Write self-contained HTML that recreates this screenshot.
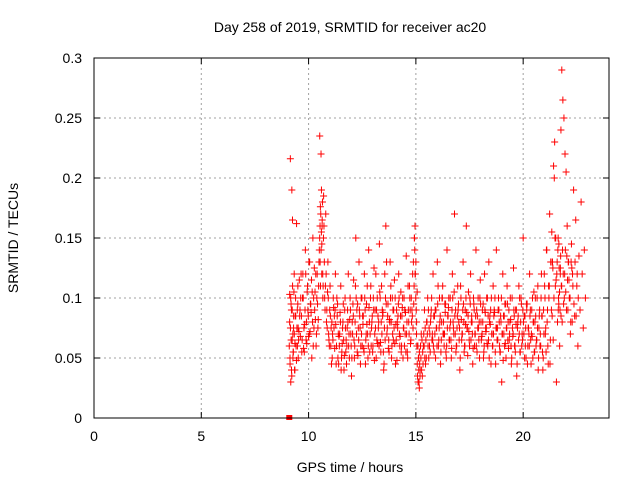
<!DOCTYPE html>
<html><head><meta charset="utf-8"><style>
body{margin:0;background:#fff}
svg{display:block;font-family:"Liberation Sans",sans-serif}
</style></head><body>
<svg id="c" width="640" height="480" viewBox="0 0 640 480">
<text x="350" y="32" text-anchor="middle" font-size="14">Day 258 of 2019, SRMTID for receiver ac20</text>
<text x="350" y="472" text-anchor="middle" font-size="14">GPS time / hours</text>
<text transform="translate(18,238) rotate(-90)" text-anchor="middle" font-size="14">SRMTID / TECUs</text>
<g id="grid"></g><g id="ticks"></g><g id="pts"></g>
<rect x="94" y="58" width="515" height="360" fill="none" stroke="#000" stroke-width="1"/>
</svg>
<script>
const xTicks=[0,5,10,15,20];
const yTicks=[0,0.05,0.1,0.15,0.2,0.25,0.3];
const yTickLabels=["0","0.05","0.1","0.15","0.2","0.25","0.3"];
const times=[9.1,9.12,9.15,9.17,9.2,9.22,9.25,9.27,9.3,9.33,9.36,9.4,9.44,9.48,9.5,9.55,9.6,9.65,9.7,9.75,9.8,9.85,9.9,9.95,10.0,10.05,10.1,10.15,10.2,10.25,10.3,10.35,10.4,10.45,10.5,10.52,10.55,10.58,10.6,10.63,10.66,10.7,10.75,10.8,10.85,10.9,10.95,11.0,11.05,11.1,11.15,11.2,11.25,11.3,11.35,11.4,11.45,11.5,11.55,11.6,11.65,11.7,11.75,11.8,11.85,11.9,11.95,12.0,12.05,12.1,12.15,12.2,12.25,12.3,12.35,12.4,12.45,12.5,12.55,12.6,12.65,12.7,12.75,12.8,12.85,12.9,12.95,13.0,13.05,13.1,13.15,13.2,13.25,13.3,13.35,13.4,13.45,13.5,13.55,13.6,13.65,13.7,13.75,13.8,13.85,13.9,13.95,14.0,14.05,14.1,14.15,14.2,14.25,14.3,14.35,14.4,14.45,14.5,14.55,14.6,14.65,14.7,14.75,14.8,14.85,14.9,14.93,14.96,15.0,15.03,15.06,15.1,15.13,15.16,15.2,15.25,15.3,15.35,15.4,15.45,15.5,15.55,15.6,15.65,15.7,15.75,15.8,15.85,15.9,15.95,16.0,16.05,16.1,16.15,16.2,16.25,16.3,16.35,16.4,16.45,16.5,16.55,16.6,16.65,16.7,16.75,16.8,16.85,16.9,16.95,17.0,17.05,17.1,17.15,17.2,17.25,17.3,17.35,17.4,17.45,17.5,17.55,17.6,17.65,17.7,17.75,17.8,17.85,17.9,17.95,18.0,18.05,18.1,18.15,18.2,18.25,18.3,18.35,18.4,18.45,18.5,18.55,18.6,18.65,18.7,18.75,18.8,18.85,18.9,18.95,19.0,19.05,19.1,19.15,19.2,19.25,19.3,19.35,19.4,19.45,19.5,19.55,19.6,19.65,19.7,19.75,19.8,19.85,19.9,19.95,20.0,20.05,20.1,20.15,20.2,20.25,20.3,20.35,20.4,20.45,20.5,20.55,20.6,20.65,20.7,20.75,20.8,20.85,20.9,20.95,21.0,21.05,21.1,21.15,21.2,21.25,21.3,21.35,21.4,21.45,21.5,21.55,21.6,21.63,21.66,21.7,21.73,21.76,21.8,21.85,21.9,21.95,22.0,22.05,22.1,22.15,22.2,22.25,22.3,22.35,22.4,22.45,22.5,22.55,22.6,22.65,22.7,22.75,22.8,22.85,22.9];
const srmtid=[0.06,0.103,0.216,0.03,0.09,0.19,0.165,0.05,0.075,0.12,0.04,0.085,0.162,0.06,0.11,0.072,0.09,0.12,0.065,0.1,0.055,0.14,0.08,0.11,0.068,0.13,0.095,0.05,0.15,0.075,0.105,0.06,0.12,0.082,0.14,0.235,0.176,0.22,0.19,0.16,0.12,0.185,0.1,0.17,0.09,0.13,0.065,0.11,0.075,0.05,0.1,0.085,0.12,0.06,0.095,0.045,0.07,0.11,0.055,0.08,0.04,0.1,0.065,0.075,0.12,0.05,0.09,0.035,0.07,0.115,0.06,0.15,0.09,0.052,0.13,0.075,0.1,0.06,0.085,0.12,0.045,0.095,0.07,0.14,0.055,0.11,0.08,0.06,0.125,0.09,0.05,0.1,0.075,0.145,0.063,0.11,0.085,0.04,0.12,0.16,0.07,0.095,0.055,0.13,0.08,0.1,0.065,0.115,0.045,0.09,0.075,0.12,0.06,0.105,0.085,0.05,0.1,0.07,0.135,0.055,0.09,0.11,0.062,0.08,0.12,0.095,0.15,0.16,0.13,0.07,0.105,0.03,0.05,0.025,0.04,0.07,0.035,0.06,0.09,0.045,0.08,0.1,0.05,0.07,0.085,0.065,0.12,0.055,0.09,0.075,0.13,0.06,0.1,0.045,0.08,0.11,0.07,0.095,0.055,0.14,0.085,0.065,0.1,0.05,0.12,0.075,0.17,0.09,0.06,0.11,0.08,0.04,0.1,0.07,0.13,0.055,0.09,0.16,0.075,0.105,0.06,0.12,0.085,0.045,0.095,0.07,0.14,0.055,0.1,0.08,0.115,0.065,0.09,0.05,0.12,0.075,0.1,0.06,0.13,0.085,0.045,0.07,0.11,0.09,0.055,0.14,0.075,0.1,0.06,0.085,0.03,0.12,0.07,0.095,0.05,0.11,0.08,0.065,0.1,0.045,0.075,0.125,0.06,0.09,0.035,0.08,0.11,0.055,0.1,0.07,0.15,0.085,0.06,0.095,0.045,0.075,0.12,0.065,0.09,0.05,0.105,0.08,0.06,0.1,0.04,0.085,0.07,0.12,0.055,0.09,0.11,0.075,0.14,0.06,0.1,0.045,0.13,0.085,0.065,0.2,0.11,0.03,0.08,0.15,0.095,0.06,0.12,0.24,0.29,0.265,0.25,0.22,0.205,0.16,0.13,0.1,0.07,0.145,0.12,0.19,0.085,0.165,0.11,0.06,0.135,0.09,0.18,0.12,0.075,0.14,0.1,0.13,0.065,0.115,0.09];
const srmtid2=[0.08,0.045,0.1,0.065,0.035,0.09,0.07,0.055,0.105,0.04,0.085,0.06,0.075,0.095,0.05,0.115,0.068,0.085,0.1,0.058,0.078,0.12,0.062,0.09,0.13,0.072,0.088,0.105,0.06,0.125,0.082,0.07,0.095,0.11,0.15,0.13,0.17,0.155,0.145,0.18,0.11,0.16,0.09,0.12,0.075,0.1,0.06,0.085,0.045,0.07,0.092,0.058,0.078,0.1,0.05,0.068,0.088,0.04,0.062,0.095,0.052,0.075,0.045,0.09,0.06,0.082,0.07,0.05,0.095,0.065,0.08,0.1,0.055,0.075,0.09,0.045,0.07,0.085,0.058,0.1,0.065,0.078,0.05,0.092,0.07,0.06,0.085,0.1,0.048,0.075,0.09,0.062,0.08,0.105,0.055,0.07,0.088,0.045,0.065,0.095,0.075,0.058,0.082,0.1,0.05,0.07,0.09,0.062,0.078,0.048,0.085,0.1,0.068,0.055,0.092,0.075,0.06,0.088,0.07,0.05,0.08,0.1,0.065,0.09,0.075,0.11,0.14,0.12,0.09,0.06,0.035,0.05,0.03,0.045,0.06,0.04,0.055,0.07,0.05,0.065,0.08,0.06,0.075,0.055,0.09,0.07,0.06,0.085,0.05,0.075,0.095,0.065,0.08,0.055,0.1,0.07,0.06,0.088,0.05,0.075,0.092,0.065,0.08,0.058,0.1,0.07,0.085,0.055,0.075,0.09,0.065,0.05,0.082,0.07,0.095,0.06,0.078,0.088,0.052,0.072,0.1,0.065,0.08,0.058,0.09,0.07,0.06,0.085,0.075,0.05,0.095,0.068,0.08,0.055,0.09,0.072,0.062,0.085,0.05,0.078,0.1,0.06,0.07,0.088,0.045,0.075,0.065,0.09,0.055,0.08,0.07,0.048,0.085,0.062,0.075,0.095,0.058,0.07,0.082,0.05,0.068,0.09,0.06,0.078,0.045,0.085,0.07,0.055,0.095,0.065,0.08,0.05,0.075,0.09,0.06,0.07,0.085,0.045,0.068,0.08,0.055,0.1,0.065,0.075,0.05,0.09,0.06,0.085,0.04,0.07,0.1,0.055,0.08,0.045,0.11,0.065,0.09,0.13,0.21,0.23,0.15,0.12,0.14,0.1,0.125,0.09,0.135,0.11,0.08,0.12,0.1,0.14,0.09,0.115,0.13,0.1,0.08,0.125,0.11,0.095,0.13,0.085,0.12,0.1];
const srmtid3=[0.05,0.075,0.095,0.04,0.065,0.11,0.055,0.085,0.07,0.062,0.1,0.048,0.09,0.075,0.065,0.085,0.1,0.055,0.12,0.075,0.09,0.065,0.105,0.085,0.07,0.095,0.115,0.08,0.1,0.09,0.12,0.1,0.075,0.13,0.16,0.11,0.14,0.12,0.165,0.1,0.15,0.13,0.11,0.08,0.105,0.07,0.09,0.06,0.08,0.065,0.075,0.09,0.045,0.085,0.07,0.06,0.08,0.05,0.075,0.065,0.09,0.055,0.06,0.08,0.07,0.1,0.06,0.08,0.085,0.05,0.11,0.07,0.095,0.065,0.085,0.06,0.1,0.078,0.055,0.09,0.07,0.11,0.06,0.08,0.1,0.075,0.055,0.09,0.07,0.12,0.065,0.085,0.06,0.1,0.08,0.09,0.055,0.075,0.1,0.13,0.085,0.065,0.08,0.11,0.06,0.09,0.075,0.1,0.065,0.08,0.095,0.07,0.085,0.06,0.1,0.075,0.09,0.055,0.08,0.11,0.07,0.09,0.1,0.085,0.13,0.15,0.12,0.1,0.08,0.045,0.06,0.04,0.055,0.035,0.05,0.065,0.045,0.06,0.075,0.05,0.07,0.09,0.06,0.08,0.1,0.065,0.085,0.07,0.09,0.06,0.11,0.075,0.085,0.065,0.1,0.08,0.07,0.095,0.06,0.085,0.1,0.075,0.065,0.09,0.08,0.105,0.07,0.06,0.085,0.095,0.075,0.11,0.065,0.09,0.08,0.06,0.1,0.075,0.085,0.065,0.095,0.08,0.07,0.1,0.06,0.085,0.09,0.075,0.065,0.1,0.08,0.07,0.095,0.06,0.088,0.075,0.1,0.065,0.08,0.09,0.07,0.06,0.085,0.1,0.075,0.065,0.09,0.08,0.055,0.1,0.07,0.085,0.06,0.095,0.075,0.065,0.09,0.08,0.06,0.1,0.07,0.085,0.055,0.09,0.075,0.065,0.1,0.08,0.06,0.09,0.07,0.085,0.05,0.095,0.075,0.06,0.09,0.07,0.1,0.08,0.055,0.085,0.065,0.11,0.075,0.06,0.1,0.085,0.05,0.12,0.07,0.14,0.09,0.11,0.17,0.13,0.155,0.125,0.1,0.15,0.115,0.13,0.09,0.145,0.105,0.125,0.085,0.11,0.14,0.095,0.12,0.105,0.135,0.09,0.115,0.1,0.13,0.08];
const W=94,E=609,T=58,B=418;
const xs=v=>W+(v-0)/(24-0)*(E-W);
const ys=v=>B-(v-0)/(0.3-0)*(B-T);
const NS="http://www.w3.org/2000/svg";
function mk(tag,at,parent){const e=document.createElementNS(NS,tag);for(const k in at)e.setAttribute(k,at[k]);document.getElementById(parent).appendChild(e);return e;}
xTicks.forEach(t=>{
 const x=xs(t);
 if(t>0){const g=mk('line',{x1:x,x2:x,y1:T,y2:B,stroke:'#a0a0a0','stroke-dasharray':'2,3'},'grid');
 
 }
 mk('line',{x1:x,x2:x,y1:B,y2:B-6,stroke:'#000'},'ticks');
 mk('line',{x1:x,x2:x,y1:T,y2:T+6,stroke:'#000'},'ticks');
 const l=mk('text',{x:x,y:B+23,'text-anchor':'middle','font-size':14},'ticks');l.textContent=t;
 
 
});
yTicks.forEach((t,i)=>{
 const y=ys(t);
 if(t>0&&t<0.3){const g=mk('line',{x1:W,x2:E,y1:y,y2:y,stroke:'#a0a0a0','stroke-dasharray':'2,3'},'grid');
 
 }
 mk('line',{x1:W,x2:W+6,y1:y,y2:y,stroke:'#000'},'ticks');
 mk('line',{x1:E,x2:E-6,y1:y,y2:y,stroke:'#000'},'ticks');
 const l=mk('text',{x:W-12,y:y+5,'text-anchor':'end','font-size':14},'ticks');l.textContent=yTickLabels[i];
 
 
});
function plot(vals,dt){
 const n=Math.min(vals.length,times.length);
 for(let i=0;i<n;i++){
  const x=xs(times[i]+dt),y=ys(vals[i]);
  const p=mk('path',{d:`M${x-3.5},${y}h7M${x},${y-3.5}v7`,stroke:'#f00','stroke-width':1,fill:'none'},'pts');
  
  
 }
}
plot(srmtid,0);
plot(srmtid2,0.017);
plot(srmtid3,0.034);
const m=mk('rect',{x:xs(9.1)-3,y:B-3,width:6,height:5,fill:'#f00'},'pts');


</script>
</body></html>
